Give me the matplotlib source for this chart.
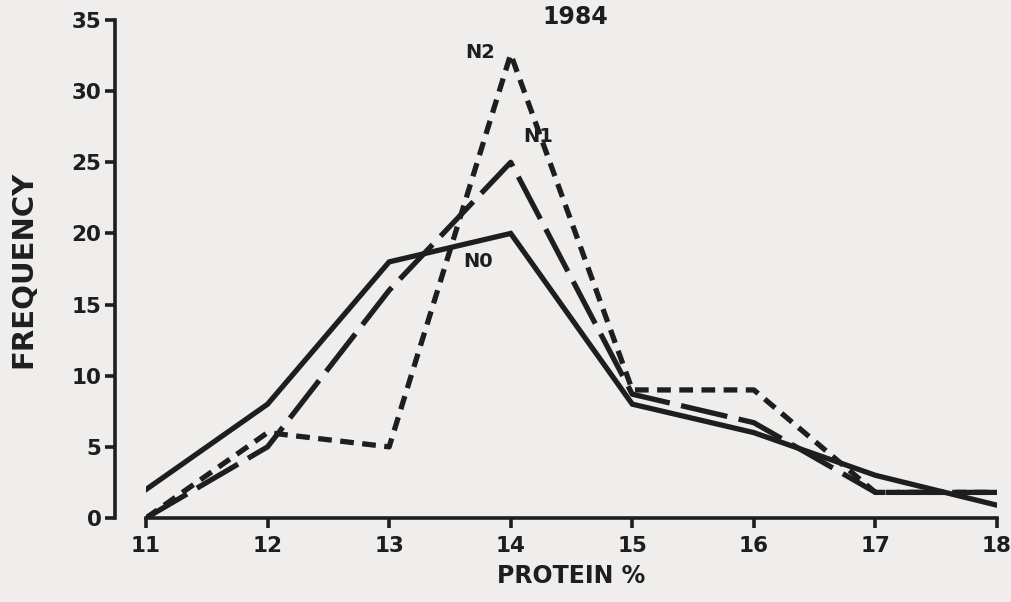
import matplotlib
matplotlib.use("Agg")
import matplotlib.pyplot as plt

# protein classes (%) and frequencies, 1984
protein = [11, 12, 13, 14, 15, 16, 17, 18]
n0 = [2, 8, 18, 20, 8, 6, 3, 0.9]
n1 = [0, 5, 16, 25, 8.7, 6.7, 1.8, 1.8]
n2 = [0, 6, 5, 32.6, 9, 9, 1.8, 1.8]

ink = "#1e1e1e"
bg = "#efeeec"

plt.rcParams["font.family"] = ["DejaVu Sans"]
plt.rcParams["font.weight"] = "bold"

fig = plt.figure(figsize=(10.12, 6.02), dpi=100, facecolor=bg)
ax = fig.add_axes([146 / 1012, (602 - 518) / 602, (997 - 146) / 1012, (518 - 20) / 602])
ax.set_facecolor(bg)

ax.plot(protein, n0, color=ink, lw=3.8, solid_joinstyle="miter")
ax.plot(protein, n1, color=ink, lw=3.8, dashes=(9, 2.2))
ax.plot(protein, n2, color=ink, lw=3.8, dashes=(2.6, 1.6))

ax.set_xlim(11, 18)
ax.set_ylim(0, 35)
ax.set_xticks(protein)
ax.set_yticks(range(0, 36, 5))

for s in ["top", "right"]:
    ax.spines[s].set_visible(False)
ax.spines["left"].set_position(("outward", 22))
ax.spines["left"].set_linewidth(2.6)
ax.spines["bottom"].set_linewidth(2.6)
ax.spines["left"].set_color(ink)
ax.spines["bottom"].set_color(ink)
ax.tick_params(axis="both", colors=ink, width=2.6, length=7, labelsize=15.5)
ax.tick_params(axis="x", pad=6)
ax.tick_params(axis="y", pad=3)

ax.set_xlabel("PROTEIN %", fontsize=17, fontweight="bold", color=ink, labelpad=6)
ax.set_ylabel("FREQUENCY", fontsize=21, fontweight="bold", color=ink, labelpad=25)

ax.text(14.53, 35.2, "1984", fontsize=17, fontweight="bold", color=ink, ha="center", va="center")
ax.text(13.75, 32.7, "N2", fontsize=14, fontweight="bold", color=ink, ha="center", va="center")
ax.text(14.23, 26.8, "N1", fontsize=14, fontweight="bold", color=ink, ha="center", va="center")
ax.text(13.73, 18.0, "N0", fontsize=14, fontweight="bold", color=ink, ha="center", va="center")

fig.savefig("out.png", dpi=100, facecolor=bg)
